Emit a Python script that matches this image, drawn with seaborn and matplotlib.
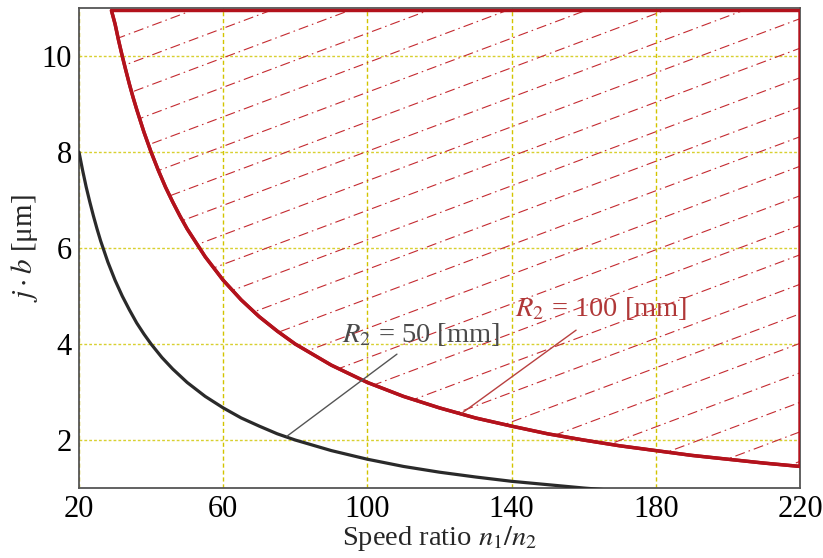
import numpy as np
import pandas as pd
import matplotlib
matplotlib.use("Agg")
import matplotlib.pyplot as plt
import seaborn as sns

# ---- data ----
x_r50 = [20, 21, 22, 23, 24, 25, 26, 28, 30, 32, 34, 36, 38, 40, 43, 46, 50, 55, 60,
         65, 70, 75, 80, 90, 100, 110, 120, 130, 140, 150, 160, 170]
y_r50 = [8.0, 7.62, 7.27, 6.96, 6.67, 6.4, 6.15, 5.71, 5.33, 5.0, 4.71, 4.44, 4.21,
         4.0, 3.72, 3.48, 3.2, 2.91, 2.67, 2.46, 2.29, 2.13, 2.0, 1.78, 1.6, 1.45,
         1.33, 1.23, 1.14, 1.07, 1.0, 0.94]

x_r100 = [29, 30, 31, 32, 33, 34, 35, 36, 38, 40, 42, 44, 46, 48, 50, 55, 60, 65, 70,
          75, 80, 90, 100, 110, 120, 130, 140, 150, 160, 170, 180, 190, 200, 210, 220]
y_r100 = [10.95, 10.67, 10.32, 10.0, 9.7, 9.41, 9.14, 8.89, 8.42, 8.0, 7.62, 7.27,
          6.96, 6.67, 6.4, 5.82, 5.33, 4.92, 4.57, 4.27, 4.0, 3.56, 3.2, 2.91, 2.67,
          2.46, 2.29, 2.13, 2.0, 1.88, 1.78, 1.68, 1.6, 1.52, 1.45]
region_top = 10.95

x_ticks = [20, 60, 100, 140, 180, 220]
y_ticks = [2, 4, 6, 8, 10]
labels = ["$R_2$ = 50 [mm]", "$R_2$ = 100 [mm]"]

df50 = pd.DataFrame({"x": x_r50, "y": y_r50})
df100 = pd.DataFrame({"x": x_r100, "y": y_r100})

sns.set_theme(style="white")
plt.rcParams["font.family"] = ["Liberation Serif", "DejaVu Serif"]
plt.rcParams["mathtext.fontset"] = "stix"

RED = "#b3121c"
fig = plt.figure(figsize=(8.23, 5.58), dpi=100)
ax = fig.add_axes([0.096, 0.1254, 0.876, 0.860])

ax.set_xlim(20, 220)
ax.set_ylim(1, 11)

# grid
for xv in x_ticks:
    ax.axvline(xv, color="#d2c400", lw=1.0, ls=(0, (3, 2)), zorder=0)
for yv in y_ticks:
    ax.axhline(yv, color="#d8d030", lw=1.0, ls=(0, (2, 1.5)), zorder=0)

# hatched region
poly = ax.fill_between(df100["x"], df100["y"], region_top, facecolor="none",
                       edgecolor=RED, lw=2.4, zorder=3)
clip_path = poly.get_paths()[0]
slope = 0.563
spacing = 0.0615
k = -20
while True:
    y0 = 0.415 - k * spacing
    if y0 < -slope - 0.1:
        break
    ln, = ax.plot([0, 1], [y0, y0 + slope], transform=ax.transAxes,
                  color="#c42a30", lw=0.8, ls=(0, (9, 3.6, 1.4, 3.6)), zorder=2)
    ln.set_clip_path(clip_path, ax.transData)
    k += 1

sns.lineplot(data=df50, x="x", y="y", ax=ax, color="#2a2a2a", lw=2.3, zorder=4)
sns.lineplot(data=df100, x="x", y="y", ax=ax, color=RED, lw=2.5, zorder=4)

# annotations
ax.plot([77.7, 108.2], [2.08, 3.79], color="#555555", lw=1.0, zorder=5)
ax.plot([126.2, 157.9], [2.56, 4.29], color="#b84040", lw=1.0, zorder=5)
ax.text(93, 4.2, labels[0], fontsize=20.5, color="#4a4a4a", va="center", ha="left", zorder=6)
ax.text(141, 4.75, labels[1], fontsize=20.5, color="#b03838", va="center", ha="left", zorder=6)

ax.set_xticks(x_ticks)
ax.set_yticks(y_ticks)
ax.tick_params(axis="both", direction="in", length=4, width=1, color="#333333",
               labelsize=22, labelcolor="black", pad=5)
for s in ax.spines.values():
    s.set_color("#555555")
    s.set_linewidth(1.3)
    s.set_visible(True)

ax.set_xlabel("Speed ratio $n_1/n_2$", fontsize=20.5, labelpad=0)
ax.set_ylabel(r"$j\cdot b$ [μm]", fontsize=21, labelpad=1)

fig.savefig("out.png", dpi=100)
